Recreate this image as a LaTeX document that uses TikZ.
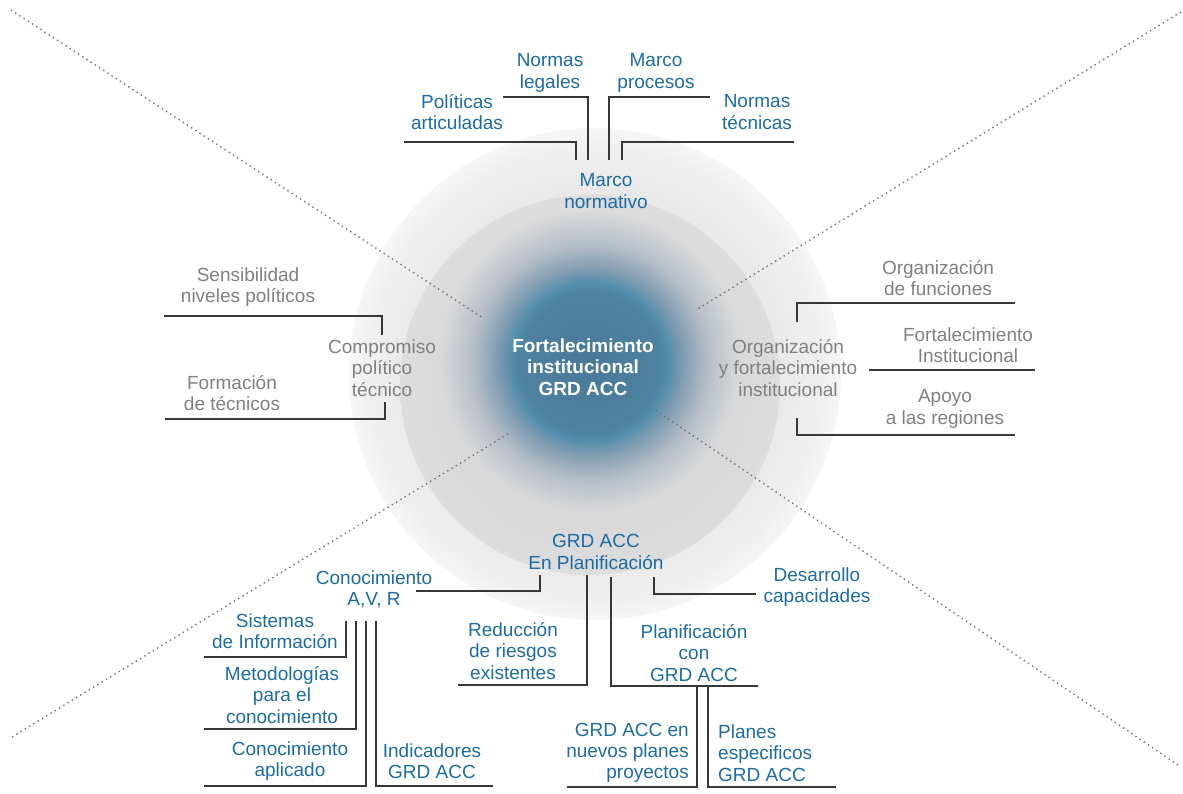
\documentclass[tikz,border=0pt]{standalone}
\usepackage{fontspec}
\setmainfont{Liberation Sans}
\definecolor{txtblue}{RGB}{28,108,162}
\definecolor{txtgray}{RGB}{128,128,128}
\definecolor{linecol}{RGB}{55,55,55}
\definecolor{dotcol}{RGB}{115,115,115}
\definecolor{cA}{RGB}{72,120,152}
\definecolor{cB}{RGB}{78,130,160}
\definecolor{cC}{RGB}{84,142,172}
\definecolor{cD}{RGB}{128,156,178}
\definecolor{cE}{RGB}{180,189,198}
\definecolor{cF}{RGB}{217,217,218}
\definecolor{oA}{RGB}{233,233,233}
\definecolor{oB}{RGB}{239,239,239}
\definecolor{oC}{RGB}{246,246,246}
\definecolor{iA}{RGB}{217,217,218}
\definecolor{iB}{RGB}{221,221,221}
\pgfdeclareradialshading{coreshade}{\pgfpoint{0bp}{0bp}}{color(0bp)=(cA); color(11.7bp)=(cB); color(13.2bp)=(cC); color(15.5bp)=(cD); color(19.5bp)=(cE); color(25bp)=(cF); color(50bp)=(cF)}
\pgfdeclareradialshading{outershade}{\pgfpoint{0bp}{0bp}}{color(0bp)=(oA); color(19bp)=(oA); color(23bp)=(oB); color(25bp)=(oC); color(50bp)=(oC)}
\pgfdeclareradialshading{innershade}{\pgfpoint{0bp}{0bp}}{color(0bp)=(iA); color(20bp)=(iA); color(25bp)=(iB); color(50bp)=(iB)}
\tikzset{
  lbl/.style={inner sep=0pt, align=center, font=\fontsize{19}{21.3}\selectfont},
  bluetxt/.style={lbl, text=txtblue},
  graytxt/.style={lbl, text=txtgray},
  coretxt/.style={lbl, text=white, font=\fontsize{19}{21.3}\selectfont\bfseries},
  conn/.style={draw=linecol, line width=1.3pt},
  dotline/.style={draw=dotcol, line width=1.4pt, dash pattern=on 1.4pt off 3.6pt}
}
\begin{document}
\begin{tikzpicture}[x=1pt,y=-1pt]
\useasboundingbox (0,0) rectangle (1183,794);
% background discs
\shade[shading=outershade] (595,374) circle (246pt);
\shade[shading=innershade] (590,385) circle (190pt);
\shade[shading=coreshade] (590,362) circle (150pt);
% dotted diagonals
\coordinate (tl0) at (11,10);   \coordinate (tl1) at (483,318);
\coordinate (tr0) at (1181,12); \coordinate (tr1) at (696,310);
\coordinate (bl0) at (12,737);  \coordinate (bl1) at (508,434);
\coordinate (br0) at (1178,765);\coordinate (br1) at (642,401);
\draw[dotline] (tl0) -- (tl1);
\draw[dotline] (tr0) -- (tr1);
\draw[dotline] (bl0) -- (bl1);
\draw[dotline] (br0) -- (br1);
% center
\node[coretxt] (core) at (583,367) {Fortalecimiento\\institucional\\GRD ACC};
% top
\node[bluetxt] (normleg) at (550,73) {Normas\\legales};
\node[bluetxt] (marcoproc) at (656,73) {Marco\\procesos};
\node[bluetxt] (polit) at (457,112) {Políticas\\articuladas};
\node[bluetxt] (normtec) at (757,112) {Normas\\técnicas};
\node[bluetxt] (marconorm) at (606,191) {Marco\\normativo};
\coordinate (a0) at (503,97);  \coordinate (a1) at (588,160);
\coordinate (b0) at (609,160); \coordinate (b1) at (710,97);
\coordinate (c0) at (404,142); \coordinate (c1) at (576,160);
\coordinate (d0) at (622,160); \coordinate (d1) at (794,142);
\draw[conn] (a0) -| (a1);
\draw[conn] (b0) |- (b1);
\draw[conn] (c0) -| (c1);
\draw[conn] (d0) |- (d1);
% left
\node[graytxt] (sens) at (248,287) {Sensibilidad\\niveles políticos};
\node[graytxt] (comp) at (382,368) {Compromiso\\político\\técnico};
\node[graytxt] (form) at (232,393) {Formación\\de técnicos};
\coordinate (e0) at (164,316); \coordinate (e1) at (382,335);
\coordinate (f0) at (385,402); \coordinate (f1) at (165,419);
\draw[conn] (e0) -| (e1);
\draw[conn] (f0) |- (f1);
% right
\node[graytxt] (orgf) at (938,278) {Organización\\de funciones};
\node[graytxt] (orgfi) at (788,368) {Organización\\y fortalecimiento\\institucional};
\node[graytxt] (fortinst) at (968,345) {Fortalecimiento\\Institucional};
\node[graytxt] (apoyo) at (945,409) {Apoyo\\a las regiones};
\coordinate (g0) at (797,322); \coordinate (g1) at (1015,303);
\coordinate (h0) at (869,370); \coordinate (h1) at (1035,370);
\coordinate (k0) at (797,418); \coordinate (k1) at (1015,435);
\draw[conn] (g0) |- (g1);
\draw[conn] (h0) -- (h1);
\draw[conn] (k0) |- (k1);
% bottom
\node[bluetxt] (grdplan) at (596,552) {GRD ACC\\En Planificación};
\node[bluetxt] (conoc) at (374,589) {Conocimiento\\A,V, R};
\node[bluetxt] (desarr) at (817,587) {Desarrollo\\capacidades};
\node[bluetxt] (reduc) at (513,651) {Reducción\\de riesgos\\existentes};
\node[bluetxt] (planif) at (694,653) {Planificación\\con\\GRD ACC};
\node[bluetxt] (sistemas) at (275,631) {Sistemas\\de Información};
\node[bluetxt] (metod) at (282,695) {Metodologías\\para el\\conocimiento};
\node[bluetxt] (conapl) at (290,761) {Conocimiento\\aplicado};
\node[bluetxt] (indic) at (432,761) {Indicadores\\GRD ACC};
\node[bluetxt, align=right, anchor=east] (grdnuevos) at (689,753) {GRD ACC en\\nuevos planes\\proyectos};
\node[bluetxt, align=left, anchor=west] (planes) at (718,753) {Planes\\especificos\\GRD ACC};
\coordinate (m0) at (416,591); \coordinate (m1) at (540,575);
\coordinate (n0) at (587,575); \coordinate (n1) at (458,685);
\coordinate (p0) at (611,577); \coordinate (p1) at (758,686);
\coordinate (q0) at (654,577); \coordinate (q1) at (756,594);
\coordinate (r0) at (346,621); \coordinate (r1) at (204,657);
\coordinate (s0) at (356,621); \coordinate (s1) at (204,729);
\coordinate (t0) at (366,621); \coordinate (t1) at (204,786);
\coordinate (u0) at (376,621); \coordinate (u1) at (493,786);
\coordinate (v0) at (697,686); \coordinate (v1) at (567,787);
\coordinate (w0) at (708,686); \coordinate (w1) at (836,787);
\draw[conn] (m0) -| (m1);
\draw[conn] (n0) |- (n1);
\draw[conn] (p0) |- (p1);
\draw[conn] (q0) |- (q1);
\draw[conn] (r0) |- (r1);
\draw[conn] (s0) |- (s1);
\draw[conn] (t0) |- (t1);
\draw[conn] (u0) |- (u1);
\draw[conn] (v0) |- (v1);
\draw[conn] (w0) |- (w1);
\end{tikzpicture}
\end{document}
